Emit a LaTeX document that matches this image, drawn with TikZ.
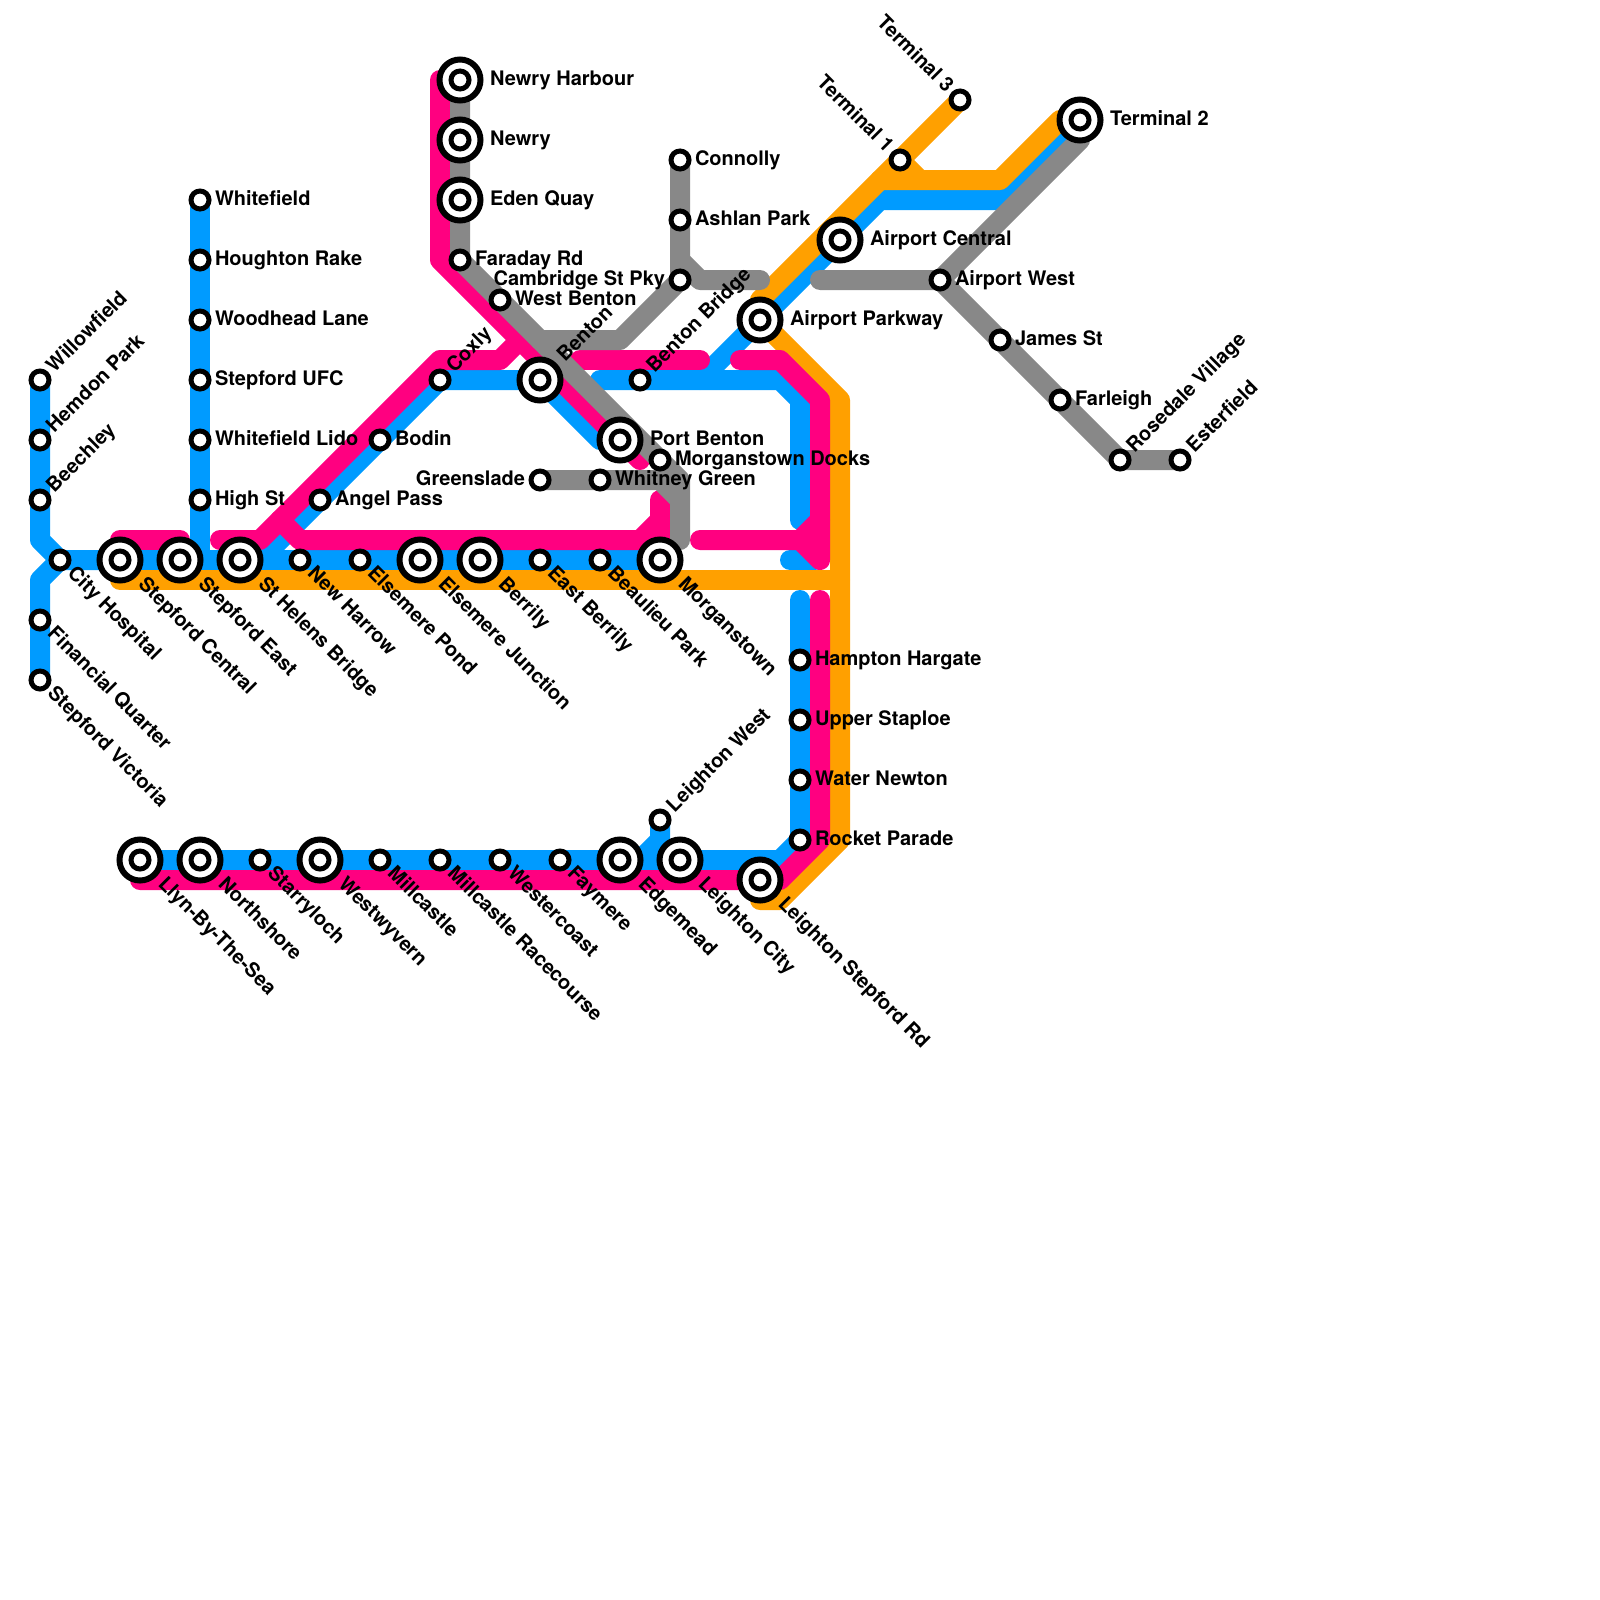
\documentclass[tikz,border=0pt]{standalone}
\usepackage{fontspec}
\setmainfont{TeX Gyre Heros}
\usetikzlibrary{calc}
\pgfdeclarelayer{lines}
\pgfsetlayers{lines,main}
\definecolor{lblue}{HTML}{009BFF}
\definecolor{lpink}{HTML}{FF0080}
\definecolor{lorange}{HTML}{FFA000}
\definecolor{lgrey}{HTML}{888888}
\tikzset{
  x=1pt,y=-1pt,
  route/.style={line width=20pt,line cap=round,line join=round},
  stn/.style={circle,draw=black,fill=white,line width=5pt,minimum size=18pt,inner sep=0pt,outer sep=0pt},
  ring/.style={circle,draw=black,fill=white,line width=6pt,minimum size=41pt,inner sep=0pt,outer sep=0pt},
  lbl/.style={inner sep=0pt,outer sep=0pt,font=\fontsize{20}{24}\selectfont\bfseries,text=black},
}
\newcommand\sn[3]{\node[stn] (#1) at (#2,#3) {};}
\newcommand\si[3]{\node[ring] (#1) at (#2,#3) {};\node[stn] (#1-c) at (#2,#3) {};}
\newcommand\lf[4]{\node[lbl,anchor=base west,rotate=#3] (#1-l) at ($(#1.center)+(#3:#4pt)+(#3-90:5.5pt)$) {#2};}
\newcommand\lr[4]{\node[lbl,anchor=base east,rotate=#3] (#1-l) at ($(#1.center)+(#3+180:#4pt)+(#3-90:5.5pt)$) {#2};}
\newcommand\lE[2]{\lf{#1}{#2}{0}{15}}
\newcommand\lEE[2]{\lf{#1}{#2}{0}{30}}
\newcommand\lNE[2]{\lf{#1}{#2}{45}{15}}
\newcommand\lNEE[2]{\lf{#1}{#2}{45}{30}}
\newcommand\lSE[2]{\lf{#1}{#2}{-45}{15}}
\newcommand\lSEE[2]{\lf{#1}{#2}{-45}{30}}
\newcommand\lNW[2]{\lr{#1}{#2}{-45}{15}}
\newcommand\lW[2]{\lr{#1}{#2}{0}{15}}
\begin{document}
\begin{tikzpicture}
\useasboundingbox (0,0) rectangle (1600,1600);
% stations
\sn{willow}{40}{380}\sn{hemdon}{40}{440}\sn{beech}{40}{500}\sn{city}{60}{560}
\sn{fin}{40}{620}\sn{vic}{40}{680}
\sn{white}{200}{200}\sn{hough}{200}{260}\sn{wood}{200}{320}\sn{ufc}{200}{380}\sn{lido}{200}{440}\sn{high}{200}{500}
\si{scen}{120}{560}\si{seast}{180}{560}\si{shb}{240}{560}\sn{harrow}{300}{560}\sn{epond}{360}{560}
\si{ejun}{420}{560}\si{berr}{480}{560}\sn{eberr}{540}{560}\sn{beau}{600}{560}\si{morg}{660}{560}
\sn{angel}{320}{500}\sn{bodin}{380}{440}\sn{coxly}{440}{380}\si{benton}{540}{380}\si{pben}{620}{440}
\sn{bbr}{640}{380}\sn{docks}{660}{460}\sn{green}{540}{480}\sn{whit}{600}{480}
\si{harb}{460}{80}\si{newry}{460}{140}\si{eden}{460}{200}\sn{far}{460}{260}\sn{wben}{500}{300}
\sn{conn}{680}{160}\sn{ash}{680}{220}\sn{camb}{680}{280}
\si{apark}{760}{320}\si{acen}{840}{240}\sn{t1}{900}{160}\sn{t3}{960}{100}\si{t2}{1080}{120}
\sn{awest}{940}{280}\sn{james}{1000}{340}\sn{farl}{1060}{400}\sn{rose}{1120}{460}\sn{ester}{1180}{460}
\sn{hamp}{800}{660}\sn{upper}{800}{720}\sn{water}{800}{780}\sn{rocket}{800}{840}
\si{llyn}{140}{860}\si{north}{200}{860}\sn{starr}{260}{860}\si{westw}{320}{860}\sn{mill}{380}{860}
\sn{race}{440}{860}\sn{wcoast}{500}{860}\sn{fay}{560}{860}\si{edge}{620}{860}\si{lcity}{680}{860}
\sn{lwest}{660}{820}\si{lsr}{760}{880}
% labels
\lNE{willow}{Willowfield}\lNE{hemdon}{Hemdon Park}\lNE{beech}{Beechley}
\lSE{city}{City Hospital}\lSE{fin}{Financial Quarter}\lSE{vic}{Stepford Victoria}
\lE{white}{Whitefield}\lE{hough}{Houghton Rake}\lE{wood}{Woodhead Lane}\lE{ufc}{Stepford UFC}\lE{lido}{Whitefield Lido}\lE{high}{High St}
\lSEE{scen}{Stepford Central}\lSEE{seast}{Stepford East}\lSEE{shb}{St Helens Bridge}\lSE{harrow}{New Harrow}\lSE{epond}{Elsemere Pond}
\lSEE{ejun}{Elsemere Junction}\lSEE{berr}{Berrily}\lSE{eberr}{East Berrily}\lSE{beau}{Beaulieu Park}\lSEE{morg}{Morganstown}
\lE{angel}{Angel Pass}\lE{bodin}{Bodin}\lNE{coxly}{Coxly}\lNEE{benton}{Benton}\lEE{pben}{Port Benton}
\lNE{bbr}{Benton Bridge}\lE{docks}{Morganstown Docks}\lW{green}{Greenslade}\lE{whit}{Whitney Green}
\lEE{harb}{Newry Harbour}\lEE{newry}{Newry}\lEE{eden}{Eden Quay}\lE{far}{Faraday Rd}\lE{wben}{West Benton}
\lE{conn}{Connolly}\lE{ash}{Ashlan Park}\lW{camb}{Cambridge St Pky}
\lEE{apark}{Airport Parkway}\lEE{acen}{Airport Central}\lNW{t1}{Terminal 1}\lNW{t3}{Terminal 3}\lEE{t2}{Terminal 2}
\lE{awest}{Airport West}\lE{james}{James St}\lE{farl}{Farleigh}\lNE{rose}{Rosedale Village}\lNE{ester}{Esterfield}
\lE{hamp}{Hampton Hargate}\lE{upper}{Upper Staploe}\lE{water}{Water Newton}\lE{rocket}{Rocket Parade}
\lSEE{llyn}{Llyn-By-The-Sea}\lSEE{north}{Northshore}\lSE{starr}{Starryloch}\lSEE{westw}{Westwyvern}\lSE{mill}{Millcastle}
\lSE{race}{Millcastle Racecourse}\lSE{wcoast}{Westercoast}\lSE{fay}{Faymere}\lSEE{edge}{Edgemead}\lSEE{lcity}{Leighton City}
\lNE{lwest}{Leighton West}\lSEE{lsr}{Leighton Stepford Rd}
% bend points
\coordinate (b1) at (40,540);\coordinate (b2) at (40,580);\coordinate (b3) at (200,560);
\coordinate (b4) at (260,560);\coordinate (b5) at (600,440);\coordinate (b6) at (600,380);
\coordinate (b7) at (780,380);\coordinate (b8) at (800,400);\coordinate (b9) at (800,520);
\coordinate (b10) at (700,380);\coordinate (b11) at (880,200);\coordinate (b12) at (1000,200);
\coordinate (b13) at (790,560);\coordinate (b14) at (815,560);\coordinate (b15) at (800,600);
\coordinate (b16) at (780,860);\coordinate (b17) at (660,840);\coordinate (b18) at (640,860);
\coordinate (o1) at (120,580);\coordinate (o2) at (840,580);\coordinate (o3) at (760,300);
\coordinate (o4) at (840,400);\coordinate (o5) at (840,840);\coordinate (o6) at (780,900);
\coordinate (o7) at (760,900);\coordinate (o8) at (920,180);\coordinate (o9) at (1000,180);\coordinate (o10) at (1060,120);\coordinate (o11) at (880,180);
\coordinate (p1) at (120,540);\coordinate (p2) at (180,540);\coordinate (p3) at (220,540);\coordinate (p4) at (260,540);
\coordinate (p5) at (440,360);\coordinate (p6) at (500,360);\coordinate (p7) at (520,340);
\coordinate (p8) at (440,80);\coordinate (p9) at (440,260);\coordinate (p10) at (640,460);
\coordinate (p11) at (660,500);\coordinate (p12) at (660,540);\coordinate (p13) at (300,540);\coordinate (p14) at (280,520);
\coordinate (p15) at (640,540);\coordinate (p16) at (660,520);\coordinate (p17) at (580,360);\coordinate (p18) at (700,360);
\coordinate (p19) at (740,360);\coordinate (p20) at (780,360);\coordinate (p21) at (820,400);\coordinate (p22) at (820,560);
\coordinate (p23) at (800,540);\coordinate (p24) at (700,540);\coordinate (p25) at (820,520);
\coordinate (p26) at (820,600);\coordinate (p27) at (820,840);\coordinate (p28) at (780,880);\coordinate (p29) at (140,880);
\coordinate (g1) at (540,340);\coordinate (g2) at (620,340);\coordinate (g3) at (680,480);\coordinate (g4) at (680,540);
\coordinate (g5) at (660,480);\coordinate (g6) at (680,500);\coordinate (g7) at (680,260);\coordinate (g8) at (700,280);
\coordinate (g9) at (760,280);\coordinate (g10) at (820,280);\coordinate (g11) at (1080,140);
\begin{pgfonlayer}{lines}
% blue
\draw[route,lblue] (willow.center) -- (b1) -- (city.center) -- (morg.center);
\draw[route,lblue] (vic.center) -- (b2) -- (city.center);
\draw[route,lblue] (white.center) -- (b3);
\draw[route,lblue] (b4) -- (coxly.center) -- (benton.center) -- (b5) -- (pben.center);
\draw[route,lblue] (b6) -- (b7) -- (b8) -- (b9);
\draw[route,lblue] (b10) -- (apark.center) -- (b11) -- (b12) -- (t2.center);
\draw[route,lblue] (b13) -- (b14);
\draw[route,lblue] (b15) -- (rocket.center) -- (b16) -- (llyn.center);
\draw[route,lblue] (lwest.center) -- (b17) -- (b18);
% orange
\draw[route,lorange] (o1) -- (o2);
\draw[route,lorange] (t3.center) -- (o3) -- (apark.center) -- (o4) -- (o5) -- (o6) -- (o7);
\draw[route,lorange] (t1.center) -- (o8);
\draw[route,lorange] (o11) -- (o9) -- (o10) -- (t2.center);
% pink
\draw[route,lpink] (p1) -- (p2);
\draw[route,lpink] (p3) -- (p4) -- (p5) -- (p6) -- (p7);
\draw[route,lpink] (harb.center) -- (p8) -- (p9) -- (p10);
\draw[route,lpink] (p11) -- (p12) -- (p13) -- (p14);
\draw[route,lpink] (p15) -- (p16);
\draw[route,lpink] (p17) -- (p18);
\draw[route,lpink] (p19) -- (p20) -- (p21) -- (p22) -- (p23) -- (p24);
\draw[route,lpink] (p23) -- (p25);
\draw[route,lpink] (p26) -- (p27) -- (p28) -- (p29);
% grey
\draw[route,lgrey] (harb.center) -- (far.center) -- (g3) -- (g4);
\draw[route,lgrey] (g1) -- (g2) -- (camb.center) -- (conn.center);
\draw[route,lgrey] (green.center) -- (g5) -- (g6);
\draw[route,lgrey] (g7) -- (g8) -- (g9);
\draw[route,lgrey] (g10) -- (awest.center) -- (g11) -- (t2.center);
\draw[route,lgrey] (awest.center) -- (rose.center) -- (ester.center);
\end{pgfonlayer}
\end{tikzpicture}
\end{document}
